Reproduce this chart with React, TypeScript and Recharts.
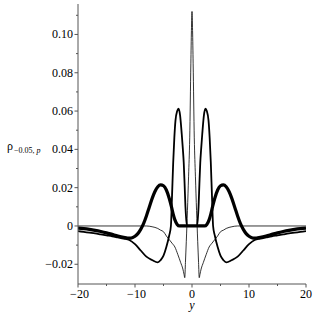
import React from 'react';
import { LineChart, Line, XAxis, YAxis } from 'recharts';

// ---- data ----
const thickY = [-20, -19, -18, -17, -16, -15, -14, -13, -12, -11.3, -10.7, -10, -9.5, -9, -8.5, -8, -7.5, -7, -6.5, -6, -5.5, -5, -4.5, -4, -3.6, -3.3, -3, -2.6, -2.2, 0, 2.2, 2.6, 3, 3.3, 3.6, 4, 4.5, 5, 5.5, 6, 6.5, 7, 7.5, 8, 8.5, 9, 9.5, 10, 10.7, 11.3, 12, 13, 14, 15, 16, 17, 18, 19, 20];
const thickV = [-0.0011, -0.0014, -0.0018, -0.0023, -0.0029, -0.0036, -0.0044, -0.0052, -0.0059, -0.0063, -0.0063, -0.0054, -0.004, -0.0018, 0.0012, 0.0052, 0.0098, 0.0143, 0.018, 0.0205, 0.0215, 0.021, 0.0188, 0.0145, 0.01, 0.0062, 0.0032, 0.0008, 0, 0, 0, 0.0008, 0.0032, 0.0062, 0.01, 0.0145, 0.0188, 0.021, 0.0215, 0.0205, 0.018, 0.0143, 0.0098, 0.0052, 0.0012, -0.0018, -0.004, -0.0054, -0.0063, -0.0063, -0.0059, -0.0052, -0.0044, -0.0036, -0.0029, -0.0023, -0.0018, -0.0014, -0.0011];

const mediumY = [-20, -19, -18, -17, -16, -15, -14, -13, -12, -11, -10, -9, -8, -7, -6, -5.5, -5, -4.5, -4, -3.7, -3.5, -3.3, -3.1, -2.9, -2.6, -2.35, -2.1, -1.8, -1.6, -1.45, -1.3, -1.15, -1, -0.85, 0, 0.85, 1, 1.15, 1.3, 1.45, 1.6, 1.8, 2.1, 2.35, 2.6, 2.9, 3.1, 3.3, 3.5, 3.7, 4, 4.5, 5, 5.5, 6, 7, 8, 9, 10, 11, 12, 13, 14, 15, 16, 17, 18, 19, 20];
const mediumV = [-0.0027, -0.0031, -0.0035, -0.0039, -0.0044, -0.0049, -0.0054, -0.006, -0.0066, -0.0073, -0.0095, -0.0128, -0.016, -0.0178, -0.019, -0.0178, -0.0155, -0.011, -0.005, 0, 0.016, 0.033, 0.046, 0.055, 0.06, 0.0612, 0.058, 0.048, 0.04, 0.033, 0.022, 0.01, 0.003, 0, 0, 0, 0.003, 0.01, 0.022, 0.033, 0.04, 0.048, 0.058, 0.0612, 0.06, 0.055, 0.046, 0.033, 0.016, 0, -0.005, -0.011, -0.0155, -0.0178, -0.019, -0.0178, -0.016, -0.0128, -0.0095, -0.0073, -0.0066, -0.006, -0.0054, -0.0049, -0.0044, -0.0039, -0.0035, -0.0031, -0.0027];

const thinY = [-20, -8, -7, -6, -5.5, -5, -4.5, -4, -3.5, -3, -2.5, -2, -1.6, -1.4, -1.27, -1.15, -1, -0.8, -0.6, -0.4, -0.2, -0.1, 0, 0.1, 0.2, 0.4, 0.6, 0.8, 1, 1.15, 1.27, 1.4, 1.6, 2, 2.5, 3, 3.5, 4, 4.5, 5, 5.5, 6, 7, 8, 20];
const thinV = [0, 0, -0.0004, -0.0013, -0.0022, -0.003, -0.0052, -0.0071, -0.009, -0.011, -0.0148, -0.019, -0.0225, -0.0252, -0.027, -0.019, -0.008, 0.008, 0.026, 0.046, 0.085, 0.102, 0.112, 0.102, 0.085, 0.046, 0.026, 0.008, -0.008, -0.019, -0.027, -0.0252, -0.0225, -0.019, -0.0148, -0.011, -0.009, -0.0071, -0.0052, -0.003, -0.0022, -0.0013, -0.0004, 0, 0];

const xTicks = [-20, -15, -10, -5, 0, 5, 10, 15, 20];
const xMajor = [-20, -10, 0, 10, 20];
const xLabels = ['\u221220', '\u221210', '0', '10', '20'];
const yTicks = [-0.02, -0.01, 0, 0.01, 0.02, 0.03, 0.04, 0.05, 0.06, 0.07, 0.08, 0.09, 0.1, 0.11];
const yMajor = [-0.02, 0, 0.02, 0.04, 0.06, 0.08, 0.1];
const yLabels = ['\u22120.02', '0', '0.02', '0.04', '0.06', '0.08', '0.10'];

const X_DOMAIN: [number, number] = [-20, 20];
const Y_DOMAIN: [number, number] = [-0.0303, 0.1159];

const toRows = (xs: number[], vs: number[]) => xs.map((x, i) => ({ x, v: vs[i] }));
const thickData = toRows(thickY, thickV);
const mediumData = toRows(mediumY, mediumV);
const thinData = toRows(thinY, thinV);

const AXIS = '#555';
const SERIF = { fontFamily: "'Liberation Serif'" };

const YTick = (props: any) => {
  const { x, y, payload } = props;
  const idx = yMajor.findIndex((m) => Math.abs(m - payload.value) < 1e-9);
  const major = idx >= 0;
  return (
    <g>
      <line x1={x - (major ? 3.5 : 2)} x2={x} y1={y} y2={y} stroke={AXIS} strokeWidth={1} />
      {major && (
        <text x={x - 5} y={y + 4} textAnchor="end" style={SERIF} fontSize={12} fill="#000">
          {yLabels[idx]}
        </text>
      )}
    </g>
  );
};

const XTick = (props: any) => {
  const { x, y, payload } = props;
  const idx = xMajor.findIndex((m) => Math.abs(m - payload.value) < 1e-9);
  const major = idx >= 0;
  return (
    <g>
      <line x1={x} x2={x} y1={y} y2={y + (major ? 3.5 : 2)} stroke={AXIS} strokeWidth={1} />
      {major && (
        <text x={x + (payload.value < 0 ? 1.5 : 0)} y={y + 13.5} textAnchor="middle" style={SERIF} fontSize={12} fill="#000">
          {xLabels[idx]}
        </text>
      )}
    </g>
  );
};

const YLabel = () => (
  <text x={7} y={150} style={SERIF} fontSize={12} fill="#000">
    ρ
    <tspan fontSize={8} dy={3} dx={1}>
      {'\u22120.05, '}
      <tspan fontStyle="italic">p</tspan>
    </tspan>
  </text>
);

const XLabel = () => (
  <text x={192} y={309} textAnchor="middle" style={SERIF} fontSize={12} fontStyle="italic" fill="#000">
    y
  </text>
);

export default function App() {
  return (
    <div style={{ position: 'absolute', left: 0, top: 0, width: 316, height: 316, background: '#fff' }}>
      <LineChart width={316} height={316} margin={{ top: 4, right: 10, bottom: 0, left: 0 }}>
        <XAxis
          dataKey="x"
          type="number"
          domain={X_DOMAIN}
          ticks={xTicks}
          interval={0}
          allowDataOverflow
          height={32}
          tickSize={0}
          tickMargin={0}
          tickLine={false}
          axisLine={{ stroke: AXIS, strokeWidth: 1 }}
          tick={<XTick />}
          label={{ content: () => <XLabel /> }}
        />
        <XAxis
          xAxisId="top"
          orientation="top"
          type="number"
          domain={X_DOMAIN}
          height={0}
          tick={false}
          tickLine={false}
          axisLine={{ stroke: AXIS, strokeWidth: 1 }}
        />
        <YAxis
          type="number"
          domain={Y_DOMAIN}
          ticks={yTicks}
          interval={0}
          allowDataOverflow
          width={78}
          tickSize={0}
          tickMargin={0}
          tickLine={false}
          axisLine={{ stroke: AXIS, strokeWidth: 1 }}
          tick={<YTick />}
          label={{ content: () => <YLabel /> }}
        />
        <YAxis
          yAxisId="right"
          orientation="right"
          type="number"
          domain={Y_DOMAIN}
          width={0}
          tick={false}
          tickLine={false}
          axisLine={{ stroke: AXIS, strokeWidth: 1 }}
        />
        <Line data={thinData} dataKey="v" type="monotone" stroke="#000" strokeWidth={0.8} dot={false} isAnimationActive={false} />
        <Line data={mediumData} dataKey="v" type="monotone" stroke="#000" strokeWidth={1.8} dot={false} isAnimationActive={false} />
        <Line data={thickData} dataKey="v" type="monotone" stroke="#000" strokeWidth={3.2} dot={false} isAnimationActive={false} />
      </LineChart>
    </div>
  );
}
